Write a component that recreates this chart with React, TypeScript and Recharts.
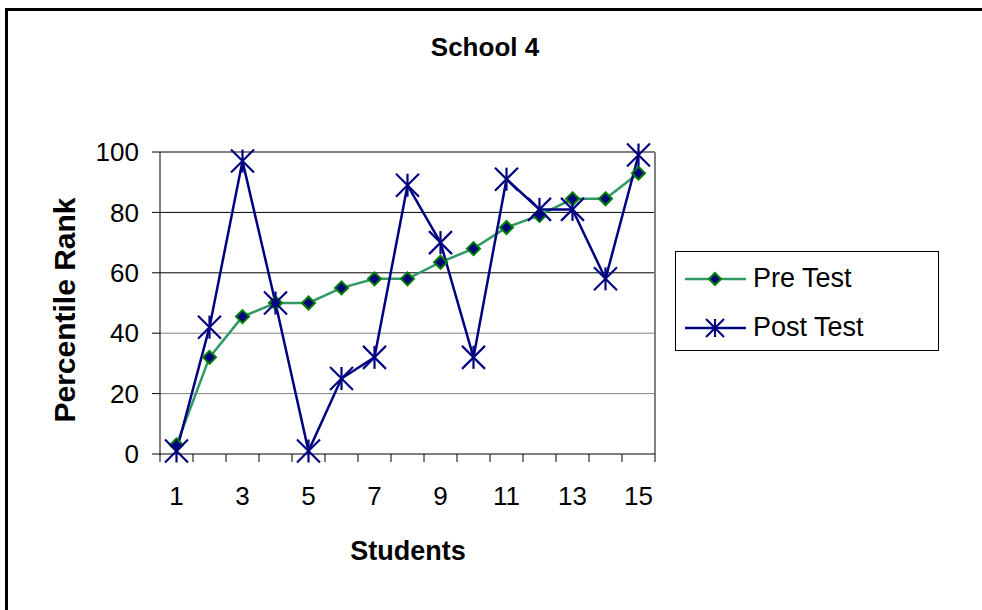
import React from 'react';
import {
  LineChart,
  Line,
  XAxis,
  YAxis,
  ReferenceLine,
  Legend,
} from 'recharts';

const students = [1, 2, 3, 4, 5, 6, 7, 8, 9, 10, 11, 12, 13, 14, 15];
const preTest = [3, 32, 45.5, 50, 50, 55, 58, 58, 63.5, 68, 75, 79, 84.5, 84.5, 93];
const postTest = [1, 42, 97, 50, 1, 25, 32, 89, 70, 32, 91, 81, 81, 58, 99];
const xLabels = [1, 3, 5, 7, 9, 11, 13, 15];
const yTicks = [0, 20, 40, 60, 80, 100];

const data = students.map((s, i) => ({ student: s, pre: preTest[i], post: postTest[i] }));

// label ticks on odd students plus tick marks on the category boundaries
const xTicks = [
  ...students.map((s) => s - 0.5),
  students[students.length - 1] + 0.5,
  ...xLabels,
].sort((a, b) => a - b);

const FONT = '"Liberation Sans", Arial, sans-serif';
const NAVY = '#000080';
const SEA = '#339966';
const GREEN = '#008000';

const TICK_SIZE = 8;
const X_TICK_MARGIN = 25;

function Diamond({ cx, cy, r = 6.5 }: { cx?: number; cy?: number; r?: number }) {
  if (cx == null || cy == null) return null;
  return (
    <path
      d={`M${cx},${cy - r}L${cx + r},${cy}L${cx},${cy + r}L${cx - r},${cy}Z`}
      fill={NAVY}
      stroke={GREEN}
      strokeWidth={2}
    />
  );
}

function Star({ cx, cy, r = 11.5 }: { cx?: number; cy?: number; r?: number }) {
  if (cx == null || cy == null) return null;
  return (
    <g stroke={NAVY} strokeWidth={2.2} fill="none">
      <line x1={cx - r} y1={cy - r} x2={cx + r} y2={cy + r} />
      <line x1={cx - r} y1={cy + r} x2={cx + r} y2={cy - r} />
      <line x1={cx} y1={cy - r} x2={cx} y2={cy + r} />
    </g>
  );
}

function StudentTick(props: any) {
  const { x, y, payload } = props;
  const v = payload.value as number;
  if (!Number.isInteger(v)) {
    const axisY = y - TICK_SIZE - X_TICK_MARGIN;
    return <line x1={x} x2={x} y1={axisY} y2={axisY + TICK_SIZE} stroke="#000" strokeWidth={1} />;
  }
  return (
    <text x={x} y={y} dy="0.71em" textAnchor="middle" fill="#000" fontSize={26} fontFamily={FONT}>
      {v}
    </text>
  );
}

function LegendBox() {
  return (
    <svg width={264} height={100} style={{ display: 'block' }}>
      <rect x={0.5} y={0.5} width={263} height={99} fill="#fff" stroke="#000" strokeWidth={1} />
      <line x1={10} x2={71} y1={28} y2={28} stroke={SEA} strokeWidth={2.5} />
      <Diamond cx={40} cy={28} r={6} />
      <text x={78} y={36} fontSize={27} fontFamily={FONT} fill="#000">Pre Test</text>
      <line x1={10} x2={71} y1={77} y2={77} stroke={NAVY} strokeWidth={2.5} />
      <Star cx={40} cy={77} r={9} />
      <text x={78} y={85} fontSize={27} fontFamily={FONT} fill="#000">Post Test</text>
    </svg>
  );
}

export default function App() {
  return (
    <div
      style={{
        position: 'absolute',
        left: 0,
        top: 0,
        width: 982,
        height: 610,
        overflow: 'hidden',
        background: '#fff',
        fontFamily: FONT,
      }}
    >
      {/* outer frame, only its top and left edges fall inside the page */}
      <div
        style={{
          position: 'absolute',
          left: 5,
          top: 8,
          width: 1000,
          height: 700,
          borderTop: '3px solid #000',
          borderLeft: '3px solid #000',
        }}
      />
      <div
        style={{
          position: 'absolute',
          left: 335,
          top: 34,
          width: 300,
          textAlign: 'center',
          fontSize: 26,
          lineHeight: '26px',
          fontWeight: 'bold',
        }}
      >
        School 4
      </div>
      <div
        style={{
          position: 'absolute',
          left: 258,
          top: 538,
          width: 300,
          textAlign: 'center',
          fontSize: 27,
          lineHeight: '27px',
          fontWeight: 'bold',
        }}
      >
        Students
      </div>
      <div
        style={{
          position: 'absolute',
          left: 65 - 150,
          top: 310 - 15,
          width: 300,
          height: 30,
          textAlign: 'center',
          fontSize: 30,
          lineHeight: '30px',
          fontWeight: 'bold',
          transform: 'rotate(-90deg)',
        }}
      >
        Percentile Rank
      </div>
      <div style={{ position: 'absolute', left: 0, top: 0 }}>
        <LineChart
          width={982}
          height={610}
          data={data}
          margin={{ top: 152, right: 327, bottom: 126, left: 100 }}
        >
          <XAxis
            dataKey="student"
            type="number"
            domain={[0.5, 15.5]}
            ticks={xTicks}
            interval={0}
            tick={<StudentTick />}
            tickLine={false}
            tickSize={TICK_SIZE}
            tickMargin={X_TICK_MARGIN}
            axisLine={{ stroke: '#000' }}
            height={30}
          />
          <YAxis
            type="number"
            domain={[0, 100]}
            ticks={yTicks}
            interval={0}
            width={60}
            tickSize={TICK_SIZE}
            tickMargin={13}
            tickLine={{ stroke: '#000' }}
            axisLine={{ stroke: '#000' }}
            tick={{ fill: '#000', fontSize: 26, fontFamily: FONT }}
          />
          <ReferenceLine y={20} stroke="#808080" strokeWidth={1} />
          <ReferenceLine y={40} stroke="#808080" strokeWidth={1} />
          <ReferenceLine y={60} stroke="#000" strokeWidth={1} />
          <ReferenceLine y={80} stroke="#000" strokeWidth={1} />
          <ReferenceLine y={100} stroke="#808080" strokeWidth={2} />
          <ReferenceLine x={15.5} stroke="#808080" strokeWidth={2} />
          <Legend
            layout="horizontal"
            align="center"
            verticalAlign="middle"
            content={() => <LegendBox />}
            wrapperStyle={{ position: 'absolute', left: 675, top: 251, width: 264, height: 100 }}
          />
          <Line
            type="linear"
            dataKey="pre"
            name="Pre Test"
            stroke={SEA}
            strokeWidth={2.5}
            dot={(p: any) => <Diamond key={`pre-${p.index}`} cx={p.cx} cy={p.cy} />}
            activeDot={false}
            isAnimationActive={false}
          />
          <Line
            type="linear"
            dataKey="post"
            name="Post Test"
            stroke={NAVY}
            strokeWidth={2.5}
            dot={(p: any) => <Star key={`post-${p.index}`} cx={p.cx} cy={p.cy} />}
            activeDot={false}
            isAnimationActive={false}
          />
        </LineChart>
      </div>
    </div>
  );
}
